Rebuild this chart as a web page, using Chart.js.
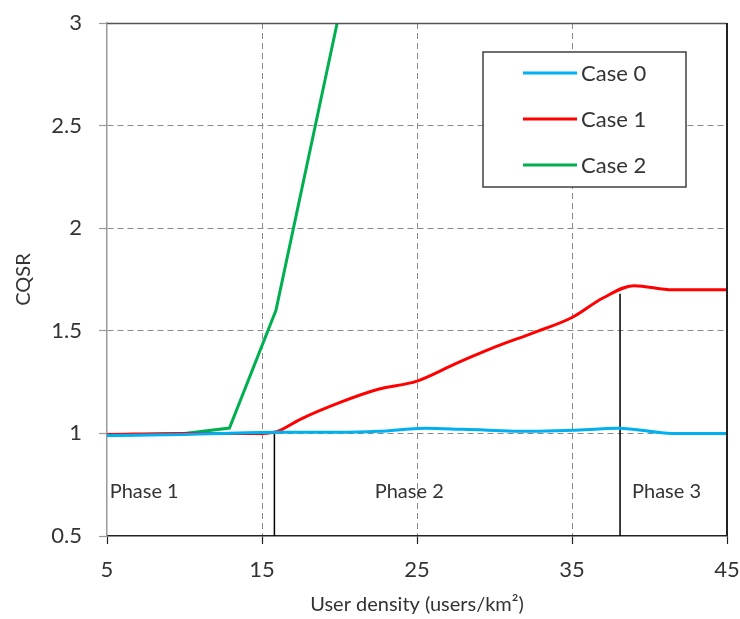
<!DOCTYPE html>
<html>
<head>
<meta charset="utf-8">
<script src="https://cdn.jsdelivr.net/npm/chart.js@4"></script>
<style>
html,body{margin:0;padding:0;background:#fff;}
#wrap{width:740px;height:619px;}
</style>
</head>
<body>
<div id="wrap"><canvas id="c" width="740" height="619"></canvas></div>
<script>
// ---- data ----
const seriesNames = ['Case 0', 'Case 1', 'Case 2'];
const case0X = [5, 10, 16, 20, 22.5, 25.5, 28, 32.5, 35, 38, 41.5, 45];
const case0Y = [0.99, 0.995, 1.005, 1.005, 1.01, 1.025, 1.02, 1.01, 1.015, 1.025, 1.0, 1.0];
const case1X = [5, 10, 15, 16, 17.5, 20, 22.5, 25, 27.5, 30, 32.5, 35, 37, 39, 41.5, 45];
const case1Y = [0.995, 1.0, 1.0, 1.01, 1.07, 1.15, 1.215, 1.255, 1.34, 1.42, 1.49, 1.565, 1.66, 1.72, 1.70, 1.70];
const case2X = [5, 10, 12.9, 15.9, 19.85];
const case2Y = [0.99, 1.0, 1.026, 1.6, 3.0];
const phaseBoundX = [15.8, 38.1];
const phaseBoundTop = [1.0, 1.68];
const phaseLabels = ['Phase 1', 'Phase 2', 'Phase 3'];
const phaseLabelX = [7.4, 24.5, 41.1];
const phaseLabelY = 0.715;
const xTicks = [5, 15, 25, 35, 45];
const yTicks = [0.5, 1, 1.5, 2, 2.5, 3];

const colors = ['#00B0F0', '#FF0000', '#00B050'];
const FONT = 'Lato';
const TXT = '#333333';

function pts(xs, ys) { return xs.map((x, i) => ({x: x, y: ys[i]})); }

const datasets = [
  {label: seriesNames[0], data: pts(case0X, case0Y), borderColor: colors[0], borderWidth: 3, tension: 0.4, cubicInterpolationMode: 'monotone', pointRadius: 0, fill: false},
  {label: seriesNames[1], data: pts(case1X, case1Y), borderColor: colors[1], borderWidth: 3, tension: 0.4, cubicInterpolationMode: 'monotone', pointRadius: 0, fill: false},
  {label: seriesNames[2], data: pts(case2X, case2Y), borderColor: colors[2], borderWidth: 3, tension: 0, pointRadius: 0, fill: false}
];
phaseBoundX.forEach((bx, i) => {
  datasets.push({label: '_bound' + i, data: [{x: bx, y: phaseBoundTop[i]}, {x: bx, y: 0.5}], borderColor: '#000', borderWidth: 1.5, pointRadius: 0, tension: 0, fill: false});
});

const overlay = {
  id: 'overlay',
  afterDatasetsDraw(chart) {
    const ctx = chart.ctx;
    const xs = chart.scales.x, ys = chart.scales.y;
    const a = chart.chartArea;
    ctx.save();
    // top and right border
    ctx.strokeStyle = '#555';
    ctx.lineWidth = 1.5;
    ctx.beginPath();
    ctx.moveTo(a.left, a.top + 0.5);
    ctx.lineTo(a.right, a.top + 0.5);
    ctx.stroke();
    ctx.strokeStyle = '#222';
    ctx.lineWidth = 2;
    ctx.beginPath();
    ctx.moveTo(a.right, a.top);
    ctx.lineTo(a.right, a.bottom);
    ctx.stroke();
    // phase labels
    ctx.fillStyle = TXT;
    ctx.font = '20px ' + FONT;
    ctx.textAlign = 'center';
    ctx.textBaseline = 'middle';
    phaseLabels.forEach((t, i) => {
      ctx.fillText(t, xs.getPixelForValue(phaseLabelX[i]), ys.getPixelForValue(phaseLabelY));
    });
    // legend box
    const bx = a.left + 376, by = a.top + 29, bw = 203, bh = 135;
    ctx.fillStyle = '#fff';
    ctx.fillRect(bx, by, bw, bh);
    ctx.strokeStyle = '#404040';
    ctx.lineWidth = 1.5;
    ctx.strokeRect(bx, by, bw, bh);
    ctx.font = '22px ' + FONT;
    ctx.textAlign = 'left';
    ctx.textBaseline = 'middle';
    seriesNames.forEach((n, i) => {
      const yy = by + 21 + i * 46;
      ctx.strokeStyle = colors[i];
      ctx.lineWidth = 3;
      ctx.beginPath();
      ctx.moveTo(bx + 40, yy);
      ctx.lineTo(bx + 94, yy);
      ctx.stroke();
      ctx.fillStyle = TXT;
      ctx.fillText(n, bx + 98, yy + 1);
    });
    ctx.restore();
  }
};

new Chart(document.getElementById('c'), {
  type: 'line',
  data: {datasets: datasets},
  plugins: [overlay],
  options: {
    responsive: false,
    animation: false,
    layout: {padding: {top: 23, right: 13, left: 0, bottom: 0}},
    plugins: {legend: {display: false}, tooltip: {enabled: false}},
    scales: {
      x: {
        type: 'linear', min: 5, max: 45,
        afterBuildTicks(s) { s.ticks = xTicks.map(v => ({value: v})); },
        afterFit(s) { s.height = 83; s.paddingLeft = 0; s.paddingRight = 0; },
        ticks: {font: {family: FONT, size: 22}, color: TXT, padding: 13, maxRotation: 0, autoSkip: false, callback: (v) => String(v)},
        grid: {
          color: (c) => (c.tick && (c.tick.value === 5 || c.tick.value === 45)) ? 'rgba(0,0,0,0)' : '#8a8a8a',
          lineWidth: 1, tickLength: 8, tickColor: '#222', tickBorderDash: [], tickWidth: 1.2, drawOnChartArea: true
        },
        border: {display: true, color: '#222', width: 1.5, dash: [6, 4]},
        title: {display: true, text: 'User density (users/km²)', font: {family: FONT, size: 20}, color: TXT, padding: {top: 0, bottom: 2}}
      },
      y: {
        type: 'linear', min: 0.5, max: 3,
        afterBuildTicks(s) { s.ticks = yTicks.map(v => ({value: v})); },
        afterFit(s) { s.width = 107; s.paddingTop = 0; s.paddingBottom = 0; },
        ticks: {font: {family: FONT, size: 22}, color: TXT, padding: 17, callback: (v) => String(v)},
        grid: {
          color: (c) => (c.tick && (c.tick.value === 0.5 || c.tick.value === 3)) ? 'rgba(0,0,0,0)' : '#8a8a8a',
          lineWidth: 1, tickLength: 8, tickColor: '#999', tickBorderDash: [], tickWidth: 1.2
        },
        border: {display: true, color: '#9a9a9a', width: 1.5, dash: [6, 4]},
        title: {display: true, text: 'CQSR', font: {family: FONT, size: 20}, color: TXT, padding: {top: 12, bottom: 0}}
      }
    }
  }
});
</script>
</body>
</html>
